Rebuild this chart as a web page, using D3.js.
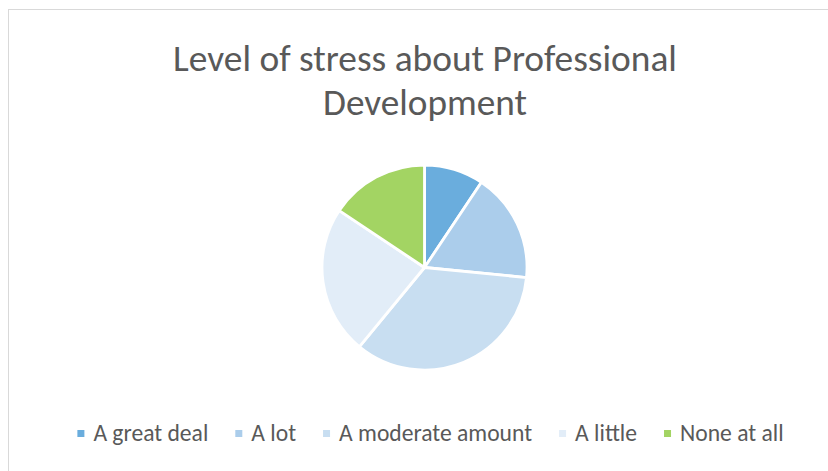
<!DOCTYPE html>
<html>
<head>
<meta charset="utf-8">
<script src="https://cdn.jsdelivr.net/npm/d3@7"></script>
<style>
  body { margin: 0; background: #fff; }
  svg { display: block; }
</style>
</head>
<body>
<div id="chart"></div>
<script>
// survey responses
const categories = ["A great deal", "A lot", "A moderate amount", "A little", "None at all"];
const counts = [6, 11, 22, 15, 10];
const colors = ["#6AADDD", "#ABCDEB", "#C8DEF1", "#E2EDF8", "#A3D463"];
const titleLines = ["Level of stress about Professional", "Development"];

const w = 828, h = 471;
const font = "Carlito, Lato, 'Open Sans', sans-serif";

const svg = d3.select("#chart").append("svg")
    .attr("width", w)
    .attr("height", h);

// chart frame
svg.append("rect")
    .attr("x", 8.5).attr("y", 9.5)
    .attr("width", 840).attr("height", 480)
    .attr("fill", "#fff")
    .attr("stroke", "#d9d9d9")
    .attr("stroke-width", 1);

// title, fitted to the width seen in the picture
const titleWidths = [504, 204];
svg.selectAll(".title")
    .data(titleLines)
    .enter()
    .append("text")
    .attr("class", "title")
    .attr("x", 425)
    .attr("y", (d, i) => 71 + i * 44)
    .attr("text-anchor", "middle")
    .attr("fill", "#595959")
    .style("font-family", font)
    .style("font-size", "36px")
    .text(d => d)
    .each(function (d, i) {
        const len = this.getComputedTextLength();
        const size = 36 * titleWidths[i] / len;
        d3.select(this).style("font-size", Math.min(size, 40) + "px");
    });

// pie
const cx = 424.5, cy = 267.5, r = 102.5;
const pie = d3.pie().sort(null).value(d => d);
const arc = d3.arc().innerRadius(0).outerRadius(r);

const g = svg.append("g")
    .attr("transform", `translate(${cx},${cy})`);

g.selectAll("path")
    .data(pie(counts))
    .enter()
    .append("path")
    .attr("d", arc)
    .attr("fill", (d, i) => colors[i])
    .attr("stroke", "#fff")
    .attr("stroke-width", 2.8)
    .attr("stroke-linejoin", "round");

// legend
const legend = svg.append("g");
const items = legend.selectAll("g")
    .data(categories)
    .enter()
    .append("g");

items.append("rect")
    .attr("width", 7).attr("height", 7)
    .attr("y", 430)
    .attr("fill", (d, i) => colors[i]);

const labels = items.append("text")
    .attr("x", 16)
    .attr("y", 441)
    .attr("fill", "#595959")
    .style("font-family", font)
    .style("font-size", "20px")
    .text(d => d);

// "A great deal" spans about 115px in the picture
const firstLen = labels.node().getComputedTextLength();
labels.style("font-size", Math.min(20 * 115 / firstLen, 26) + "px");

let xPos = 0;
const offsets = [];
items.each(function () {
    offsets.push(xPos);
    const tw = d3.select(this).select("text").node().getComputedTextLength();
    xPos += 16 + tw + 27;
});
const total = xPos - 27;
const startX = 430.5 - total / 2;
items.attr("transform", (d, i) => `translate(${startX + offsets[i]},0)`);
</script>
</body>
</html>
